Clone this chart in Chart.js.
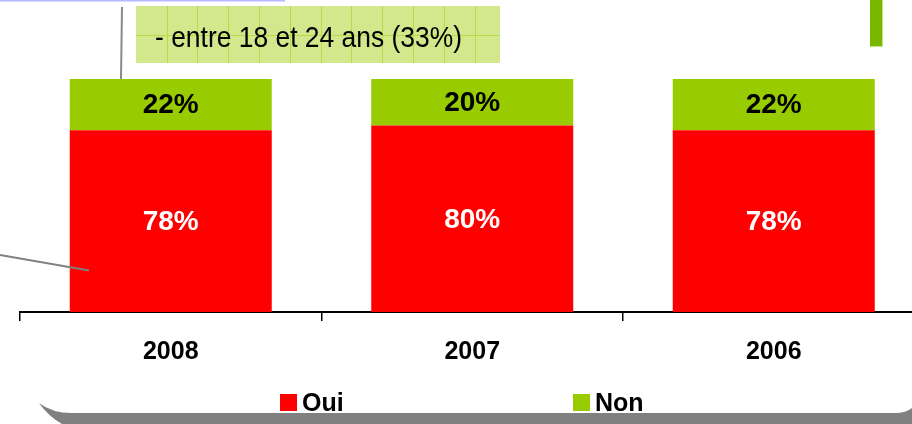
<!DOCTYPE html>
<html><head><meta charset="utf-8">
<script src="https://cdn.jsdelivr.net/npm/chart.js@4"></script>
<style>html,body{margin:0;padding:0;background:#fff;overflow:hidden}
#wrap{position:relative;width:912px;height:424px;overflow:hidden;background:#fff}
#c{position:absolute;left:0;top:0}</style></head>
<body><div id="wrap"><canvas id="c" width="940" height="424" style="width:940px;height:424px"></canvas></div>
<script>
const categories = ['2008', '2007', '2006'];
const seriesNames = ['Oui', 'Non'];
const ouiValues = [78, 80, 78];
const nonValues = [22, 20, 22];
const calloutText = '- entre 18 et 24 ans (33%)';

const FONT = '"Liberation Sans", Arial, sans-serif';
const RED = '#ff0000';
const GREEN = '#99cc00';

const decorations = {
  id: 'decorations',
  beforeDatasetsDraw(chart) {
    const ctx = chart.ctx;
    ctx.save();
    // light blue line at top-left
    ctx.fillStyle = '#b8b8ff';
    ctx.fillRect(0, 0, 285, 1.5);
    // callout box
    ctx.fillStyle = '#d3e88c';
    ctx.fillRect(136, 6, 364, 57);
    ctx.strokeStyle = '#b3dc48';
    ctx.lineWidth = 1;
    for (let x = 166.5; x < 500; x += 30.8) {
      ctx.beginPath(); ctx.moveTo(Math.round(x) + 0.5, 6); ctx.lineTo(Math.round(x) + 0.5, 63); ctx.stroke();
    }
    ctx.beginPath(); ctx.moveTo(136, 35.5); ctx.lineTo(500, 35.5); ctx.stroke();
    ctx.fillStyle = '#000';
    ctx.font = '29px ' + FONT;
    ctx.textBaseline = 'alphabetic';
    ctx.textAlign = 'left';
    const w = ctx.measureText(calloutText).width;
    ctx.save();
    ctx.translate(155, 47);
    ctx.scale(307 / w, 1);
    ctx.fillText(calloutText, 0, 0);
    ctx.restore();
    // vertical connector
    ctx.strokeStyle = '#8a8a8a';
    ctx.lineWidth = 2;
    ctx.beginPath(); ctx.moveTo(122, 7); ctx.lineTo(121, 79); ctx.stroke();
    // green accent bar top right
    ctx.fillStyle = '#c4e47c';
    ctx.fillRect(870, 0, 13, 47);
    ctx.fillStyle = '#7ab800';
    ctx.fillRect(870, 0, 12, 46);
    // bottom gray frame shadow
    ctx.fillStyle = '#808080';
    ctx.beginPath();
    ctx.moveTo(39, 403);
    ctx.quadraticCurveTo(52, 413, 72, 413);
    ctx.lineTo(895, 413);
    ctx.quadraticCurveTo(906, 413, 912, 408);
    ctx.lineTo(912, 424);
    ctx.lineTo(62, 424);
    ctx.quadraticCurveTo(48, 416, 39, 403);
    ctx.closePath();
    ctx.fill();
    ctx.restore();
  },
  afterDatasetsDraw(chart) {
    const ctx = chart.ctx;
    ctx.save();
    // left connector line
    ctx.strokeStyle = '#808080';
    ctx.lineWidth = 2;
    ctx.beginPath(); ctx.moveTo(0, 255); ctx.lineTo(89, 270.5); ctx.stroke();
    // value labels
    ctx.font = 'bold 28px ' + FONT;
    ctx.textAlign = 'center';
    ctx.textBaseline = 'middle';
    chart.data.datasets.forEach((ds, i) => {
      const meta = chart.getDatasetMeta(i);
      meta.data.forEach((bar, j) => {
        const p = bar.getProps(['x', 'y', 'base'], true);
        ctx.fillStyle = i === 0 ? '#ffffff' : '#000000';
        ctx.fillText(ds.data[j] + '%', p.x, (p.y + p.base) / 2 + 1);
      });
    });
    // legend
    const legendX = [280, 573];
    ctx.font = 'bold 25px ' + FONT;
    ctx.textAlign = 'left';
    ctx.textBaseline = 'alphabetic';
    chart.data.datasets.forEach((ds, i) => {
      ctx.fillStyle = ds.backgroundColor;
      ctx.fillRect(legendX[i], 394, 17, 17);
      ctx.fillStyle = '#000';
      ctx.fillText(ds.label, legendX[i] + 22, 411);
    });
    ctx.restore();
  }
};

new Chart(document.getElementById('c'), {
  type: 'bar',
  data: {
    labels: categories,
    datasets: [
      { label: seriesNames[0], data: ouiValues, backgroundColor: RED, barPercentage: 0.67, categoryPercentage: 1.0 },
      { label: seriesNames[1], data: nonValues, backgroundColor: GREEN, barPercentage: 0.67, categoryPercentage: 1.0 }
    ]
  },
  options: {
    responsive: false,
    animation: false,
    devicePixelRatio: 1,
    layout: { padding: { left: 20, right: 15.5, top: 79, bottom: 0 } },
    plugins: { legend: { display: false }, tooltip: { enabled: false } },
    scales: {
      x: {
        stacked: true,
        offset: true,
        grid: { display: true, drawOnChartArea: false, drawTicks: true, tickLength: 9, color: '#000', lineWidth: 1.5 },
        border: { display: true, color: '#000', width: 2 },
        ticks: { color: '#000', font: { family: FONT, size: 25, weight: 'bold' }, padding: 16 },
        afterFit(s) { s.height = 112; }
      },
      y: { stacked: true, display: false, min: 0, max: 100 }
    }
  },
  plugins: [decorations]
});
</script>
</body></html>
